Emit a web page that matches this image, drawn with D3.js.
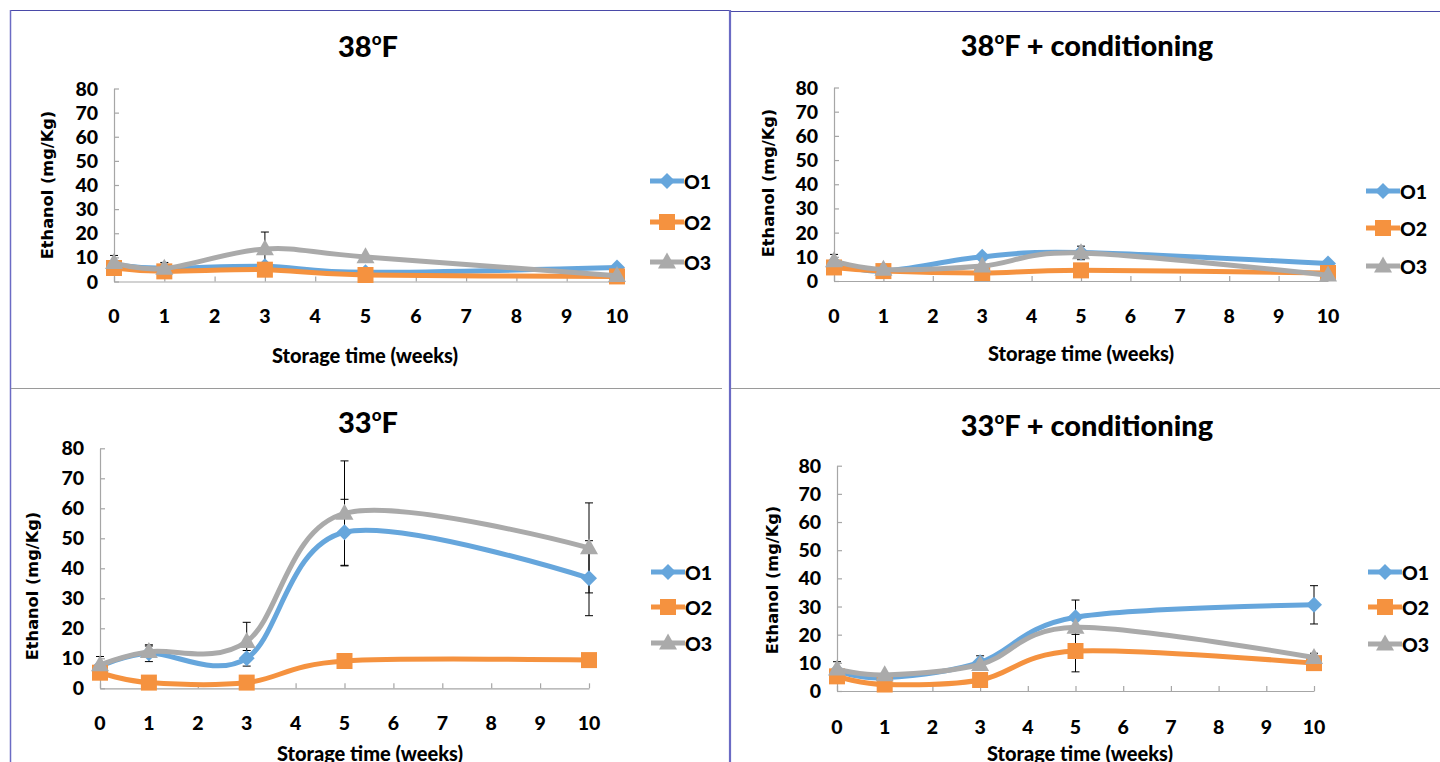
<!DOCTYPE html>
<html>
<head>
<meta charset="utf-8">
<script src="https://cdn.jsdelivr.net/npm/d3@7"></script>
<style>
  html, body { margin: 0; padding: 0; background: #fff; }
  svg { display: block; }
  text { font-family: Lato, "Open Sans", sans-serif; font-weight: 900; fill: #000; }
</style>
</head>
<body>
<svg id="chart" width="1440" height="762"></svg>
<script>
// ---------- data ----------
const weeks = [0, 1, 3, 5, 10];
const xTickValues = [0, 1, 2, 3, 4, 5, 6, 7, 8, 9, 10];
const yTickValues = [0, 10, 20, 30, 40, 50, 60, 70, 80];
const seriesNames = ["O1", "O2", "O3"];
const panelTitles = [["38", "F"], ["38", "F + conditioning"], ["33", "F"], ["33", "F + conditioning"]];
const xAxisTitle = "Storage time (weeks)";
const yAxisTitle = "Ethanol (mg/Kg)";

// 38°F
const o1_38 = [7.0, 5.5, 6.3, 3.8, 5.8];
const o2_38 = [5.6, 4.2, 4.9, 2.7, 2.1];
const o3_38 = [7.8, 5.4, 13.5, 10.2, 2.4];
const e1_38 = [null, null, null, null, null];
const e2_38 = [null, null, null, null, null];
const e3_38 = [3.0, 2.5, 7.0, null, null];
// 38°F + conditioning
const o1_38c = [7.5, 4.1, 10.0, 11.8, 7.2];
const o2_38c = [5.6, 4.1, 3.3, 4.4, 3.3];
const o3_38c = [8.3, 4.8, 6.2, 11.6, 2.4];
const e1_38c = [null, null, null, null, null];
const e2_38c = [null, null, null, null, null];
const e3_38c = [2.7, null, null, 2.8, null];
// 33°F
const o1_33 = [7.2, 11.7, 10.0, 52.0, 36.7];
const o2_33 = [5.2, 1.9, 1.9, 9.1, 9.4];
const o3_33 = [7.8, 12.2, 15.6, 58.3, 46.8];
const e1_33 = [null, 2.8, 2.6, 11.0, 12.5];
const e2_33 = [null, null, null, null, null];
const e3_33 = [2.8, 1.9, 6.4, 17.5, 15.0];
// 33°F + conditioning
const o1_33c = [7.1, 4.7, 10.2, 26.2, 30.6];
const o2_33c = [5.2, 2.3, 3.9, 14.2, 9.9];
const o3_33c = [7.8, 5.7, 9.4, 22.6, 11.9];
const e1_33c = [null, null, 2.3, 6.1, 6.8];
const e2_33c = [null, null, null, 7.4, null];
const e3_33c = [2.6, null, null, null, 1.5];

const panelValues = [
  [o1_38, o2_38, o3_38], [o1_38c, o2_38c, o3_38c],
  [o1_33, o2_33, o3_33], [o1_33c, o2_33c, o3_33c]
];
const panelErrors = [
  [e1_38, e2_38, e3_38], [e1_38c, e2_38c, e3_38c],
  [e1_33, e2_33, e3_33], [e1_33c, e2_33c, e3_33c]
];

// ---------- layout / style ----------
const colors = ["#66a6dc", "#f5923f", "#aaaaaa"];
const layout = [
  { x0: 114, x1: 617, yb: 281.5, yt: 88.5, title: [368, 57], xlab: [365, 363], ylab: [47, 185], xtickY: 323, legX: 650, legY: [181, 222, 262] },
  { x0: 834, x1: 1328, yb: 281, yt: 87.5, title: [1087, 56], xlab: [1081, 361], ylab: [768, 183], xtickY: 323, legX: 1366, legY: [191, 228, 266] },
  { x0: 100, x1: 589, yb: 688.3, yt: 448.3, title: [368, 433], xlab: [370, 761], ylab: [32, 586], xtickY: 730, legX: 651, legY: [572, 607, 643] },
  { x0: 837, x1: 1314, yb: 691, yt: 465.7, title: [1087, 436], xlab: [1080, 761], ylab: [772, 580], xtickY: 734, legX: 1368, legY: [572, 607, 644] }
];

const svg = d3.select("#chart");

// frame lines
const frame = svg.append("g");
frame.append("line").attr("x1", 10).attr("x2", 729).attr("y1", 10.5).attr("y2", 10.5).attr("stroke", "#4a4aa8").attr("stroke-width", 1.2);
frame.append("line").attr("x1", 731).attr("x2", 1440).attr("y1", 11.5).attr("y2", 11.5).attr("stroke", "#4a4aa8").attr("stroke-width", 1.2);
frame.append("line").attr("x1", 10.5).attr("x2", 10.5).attr("y1", 10).attr("y2", 762).attr("stroke", "#6b6bc4").attr("stroke-width", 1.5);
frame.append("line").attr("x1", 730).attr("x2", 730).attr("y1", 10).attr("y2", 762).attr("stroke", "#6b6bc4").attr("stroke-width", 2.2);
frame.append("line").attr("x1", 11).attr("x2", 722).attr("y1", 388.5).attr("y2", 388.5).attr("stroke", "#9a9a9a").attr("stroke-width", 1.2);
frame.append("line").attr("x1", 731).attr("x2", 1440).attr("y1", 388.5).attr("y2", 388.5).attr("stroke", "#9a9a9a").attr("stroke-width", 1.2);

function markerPath(i) {
  if (i === 0) { const r = 8; return `M0,${-r}L${r},0L0,${r}L${-r},0Z`; }
  if (i === 1) { const s = 8; return `M${-s},${-s}H${s}V${s}H${-s}Z`; }
  const w = 9, h = 16; return `M0,${-h * 0.6}L${w},${h * 0.4}L${-w},${h * 0.4}Z`;
}

layout.forEach((L, p) => {
  const g = svg.append("g");
  const x = d3.scaleLinear().domain([0, 10]).range([L.x0, L.x1]);
  const y = d3.scaleLinear().domain([0, 80]).range([L.yb, L.yt]);

  // axes
  const xAxis = d3.axisBottom(x).tickValues(xTickValues).tickSizeInner(-5).tickSizeOuter(0).tickFormat("");
  const gx = g.append("g").attr("transform", `translate(0,${L.yb})`).call(xAxis);
  const yAxis = d3.axisLeft(y).tickValues(yTickValues).tickSizeInner(-5).tickSizeOuter(0).tickFormat("");
  const gy = g.append("g").attr("transform", `translate(${L.x0},0)`).call(yAxis);
  [gx, gy].forEach(a => { a.selectAll("path,line").attr("stroke", "#a6a6a6").attr("stroke-width", 1.2); });

  // tick labels
  g.selectAll(".xt").data(xTickValues).enter().append("text")
    .attr("x", d => x(d)).attr("y", L.xtickY).attr("text-anchor", "middle")
    .attr("font-size", 19.5).text(d => d);
  g.selectAll(".yt").data(yTickValues).enter().append("text")
    .attr("x", L.x0 - 16).attr("y", d => y(d) + 7).attr("text-anchor", "end")
    .attr("font-size", 19.5).text(d => d);

  // titles
  const t = g.append("text").attr("x", L.title[0]).attr("y", L.title[1]).attr("text-anchor", "middle").attr("font-size", 29);
  t.append("tspan").text(panelTitles[p][0]);
  t.append("tspan").attr("font-size", 17).attr("dy", -12).text("o");
  t.append("tspan").attr("dy", 12).text(panelTitles[p][1]);

  g.append("text").attr("x", L.xlab[0]).attr("y", L.xlab[1]).attr("text-anchor", "middle")
    .attr("font-size", 20).text(xAxisTitle);
  g.append("text").attr("transform", `translate(${L.ylab[0] + 6},${L.ylab[1]}) rotate(-90)`)
    .attr("text-anchor", "middle").attr("font-size", 16.2).style("font-weight", "bold")
    .style("font-family", "'DejaVu Sans', Verdana, sans-serif").text(yAxisTitle);

  const line = d3.line().x(d => x(d[0])).y(d => y(d[1])).curve(d3.curveCardinal.tension(0));

  // error bars
  const eg = g.append("g");
  panelErrors[p].forEach((errs, si) => {
    errs.forEach((e, k) => {
      if (e == null) return;
      const v = panelValues[p][si][k];
      const cx = x(weeks[k]);
      eg.append("line").attr("x1", cx).attr("x2", cx).attr("y1", y(v - e)).attr("y2", y(v + e)).attr("stroke", "#000").attr("stroke-width", 1);
      [v - e, v + e].forEach(b => {
        eg.append("line").attr("x1", cx - 4).attr("x2", cx + 4).attr("y1", y(b)).attr("y2", y(b)).attr("stroke", "#000").attr("stroke-width", 1);
      });
    });
  });

  // series
  panelValues[p].forEach((vals, si) => {
    const pts = weeks.map((w, k) => [w, vals[k]]);
    g.append("path").datum(pts).attr("d", line).attr("fill", "none")
      .attr("stroke", colors[si]).attr("stroke-width", 5).attr("stroke-linejoin", "round").attr("stroke-linecap", "round");
    g.selectAll(null).data(pts).enter().append("path")
      .attr("d", markerPath(si)).attr("transform", d => `translate(${x(d[0])},${y(d[1])})`)
      .attr("fill", colors[si]);
  });

  // legend
  seriesNames.forEach((name, si) => {
    const ly = L.legY[si];
    g.append("line").attr("x1", L.legX).attr("x2", L.legX + 34).attr("y1", ly).attr("y2", ly)
      .attr("stroke", colors[si]).attr("stroke-width", 5);
    g.append("path").attr("d", markerPath(si)).attr("transform", `translate(${L.legX + 17},${ly})`).attr("fill", colors[si]);
    g.append("text").attr("x", L.legX + 34).attr("y", ly + 7.5).attr("font-size", 19.5).text(name);
  });
});
</script>
</body>
</html>
